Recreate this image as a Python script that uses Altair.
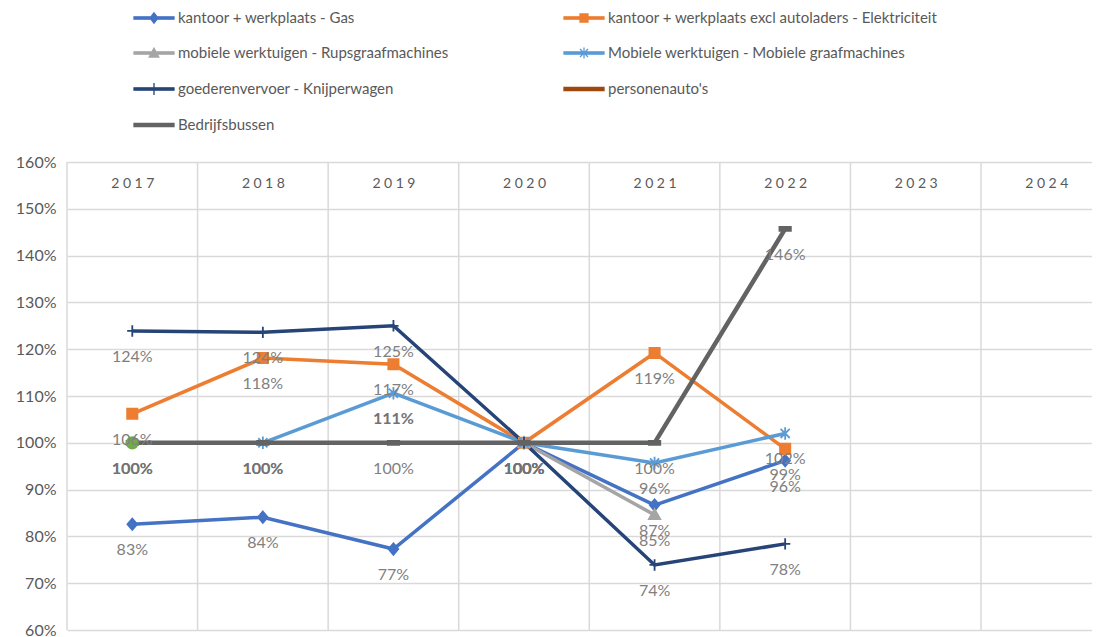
import altair as alt
import pandas as pd

# ---------------- data ----------------
years = [2017, 2018, 2019, 2020, 2021, 2022, 2023, 2024]
data_years = [2017, 2018, 2019, 2020, 2021, 2022]

series_names = [
    "kantoor + werkplaats - Gas",
    "kantoor + werkplaats excl autoladers - Elektriciteit",
    "mobiele werktuigen - Rupsgraafmachines",
    "Mobiele werktuigen - Mobiele graafmachines",
    "goederenvervoer - Knijperwagen",
    "personenauto's",
    "Bedrijfsbussen",
]
series_colors = ["#4472C4", "#ED7D31", "#A5A5A5", "#5B9BD5", "#264478", "#9E480E", "#636363"]

gas = [0.826, 0.841, 0.773, 1.00, 0.867, 0.962]
elektriciteit = [1.062, 1.181, 1.168, 1.00, 1.192, 0.987]
rupsgraaf = [None, None, None, 1.00, 0.846, None]
mobiele = [None, 1.00, 1.106, 1.00, 0.957, 1.020]
knijper = [1.239, 1.236, 1.250, 1.00, 0.739, 0.784]
personenautos = [None, None, None, None, None, None]
bussen = [1.00, 1.00, 1.00, 1.00, 1.00, 1.457]
series_values = [gas, elektriciteit, rupsgraaf, mobiele, knijper, personenautos, bussen]

extra_name = "extra"
extra_color = "#70AD47"
extra_values = [1.00, None, None, None, None, None]

bold_labels = {
    ("Mobiele werktuigen - Mobiele graafmachines", 2018),
    ("Mobiele werktuigen - Mobiele graafmachines", 2019),
    ("Mobiele werktuigen - Mobiele graafmachines", 2020),
    ("extra", 2017),
}

# marker shapes in the plot (custom paths) and in the legend (bar + marker)
marker_paths = [
    "M0,-1L0.85,0L0,1L-0.85,0Z",
    "M-0.9,-0.9H0.9V0.9H-0.9Z",
    "M0,-1L1,0.75H-1Z",
    "M-0.8,-0.8L0.8,0.8M-0.8,0.8L0.8,-0.8M0,-1.1V1.1",
    "M-0.9,0H0.9M0,-1V1",
    "circle",
    "M-1,-0.35H1V0.35H-1Z",
]
BAR = "M-1,-0.06H1V0.06H-1Z"
legend_paths = [
    BAR + "M0,-0.26L0.2,0L0,0.26L-0.2,0Z",
    BAR + "M-0.2,-0.2H0.2V0.2H-0.2Z",
    BAR + "M0,-0.24L0.24,0.2H-0.24Z",
    BAR + "M-0.2,-0.2L0.2,0.2M-0.2,0.2L0.2,-0.2M0,-0.28V0.28",
    BAR + "M0,-0.3V0.3M-0.12,0H0.12",
    "M-1,-0.08H1V0.08H-1Z",
    "M-1,-0.08H1V0.08H-1Z",
]

rows = []
for name, vals in zip(series_names + [extra_name], series_values + [extra_values]):
    for yr, v in zip(data_years, vals):
        if v is not None:
            rows.append({"series": name, "year": yr, "value": v, "bold": (name, yr) in bold_labels})
df = pd.DataFrame(rows)

grid_df = pd.DataFrame({"year": [y - 0.5 for y in years]})
legend_df = pd.DataFrame({"series": series_names})

# ---------------- encodings ----------------
FONT = "Lato"
x_scale = alt.Scale(domain=[2016.5, 2024.35], nice=False, zero=False)
y_scale = alt.Scale(domain=[0.6, 1.6], nice=False, zero=False)

x_axis = alt.Axis(orient="top", values=years, format="d", grid=False, ticks=False, tickSize=0,
                  domain=False, labelPadding=-21, labelBaseline="middle",
                  labelExpr="join(split(datum.label, ''), '\u2005')",
                  labelFontSize=14, labelColor="#595959", labelFont=FONT,
                  labelOverlap=False, labelFlush=False, title=None)
y_axis = alt.Axis(format="%", values=[0.6, 0.7, 0.8, 0.9, 1.0, 1.1, 1.2, 1.3, 1.4, 1.5, 1.6],
                  grid=True, gridColor="#d9d9d9", gridWidth=1.5, ticks=False, domain=False,
                  labelPadding=11, labelFontSize=16, labelColor="#595959", labelFont=FONT, title=None)

x_enc = alt.X("year:Q", scale=x_scale, axis=x_axis)
y_enc = alt.Y("value:Q", scale=y_scale, axis=y_axis)

all_names = series_names + [extra_name]
all_colors = series_colors + [extra_color]
all_paths = marker_paths + ["circle"]

vgrid = alt.Chart(grid_df).mark_rule(color="#d9d9d9", strokeWidth=1.5).encode(x=x_enc)

lines = alt.Chart(df).transform_filter(
    (alt.datum.series != extra_name) & (alt.datum.series != "Bedrijfsbussen")
).mark_line(strokeWidth=3.5).encode(
    x=x_enc, y=y_enc,
    color=alt.Color("series:N", scale=alt.Scale(domain=series_names, range=series_colors), legend=None),
)

bus_line = alt.Chart(df).transform_filter(alt.datum.series == "Bedrijfsbussen").mark_line(
    strokeWidth=4.5, color="#636363"
).encode(x=x_enc, y=y_enc)

points = alt.Chart(df).mark_point(filled=True, size=130, strokeWidth=1.8, opacity=1).encode(
    x=x_enc, y=y_enc,
    fill=alt.Fill("series:N", scale=alt.Scale(domain=all_names, range=all_colors), legend=None),
    stroke=alt.Stroke("series:N", scale=alt.Scale(domain=all_names, range=all_colors), legend=None),
    shape=alt.Shape("series:N", scale=alt.Scale(domain=all_names, range=all_paths), legend=None),
)

labels = alt.Chart(df).transform_filter(alt.datum.bold == False).mark_text(
    dy=26, fontSize=16, color="#808080", font=FONT
).encode(x=x_enc, y=y_enc, text=alt.Text("value:Q", format=".0%"))

labels_bold = alt.Chart(df).transform_filter(alt.datum.bold == True).mark_text(
    dy=26, fontSize=16, color="#737373", font=FONT, fontWeight="bold"
).encode(x=x_enc, y=y_enc, text=alt.Text("value:Q", format=".0%"))

leg = alt.Legend(
    title=None, orient="none", direction="horizontal", legendX=66, legendY=-165, columns=2,
    columnPadding=112, rowPadding=6, symbolSize=1600, symbolStrokeWidth=1.3, labelFontSize=15,
    labelColor="#595959", labelFont=FONT, labelOffset=3, labelLimit=500, padding=0,
)
legend_layer = alt.Chart(legend_df).transform_filter(alt.datum.series == "__none__").mark_point(
    filled=True, strokeWidth=1.3, opacity=1
).encode(
    fill=alt.Fill("series:N", scale=alt.Scale(domain=series_names, range=series_colors), legend=leg),
    stroke=alt.Stroke("series:N", scale=alt.Scale(domain=series_names, range=series_colors), legend=leg),
    shape=alt.Shape("series:N", scale=alt.Scale(domain=series_names, range=legend_paths), legend=leg),
)

chart = alt.layer(vgrid, lines, bus_line, points, labels, labels_bold, legend_layer).resolve_scale(
    color="independent", fill="independent", stroke="independent", shape="independent"
).properties(
    width=1025, height=468,
    autosize=alt.AutoSizeParams(type="none"),
    padding={"left": 59, "top": 154, "right": 0, "bottom": 8},
).configure_view(stroke=None)

chart.save("out.html", embed_options={"renderer": "svg", "actions": False})
